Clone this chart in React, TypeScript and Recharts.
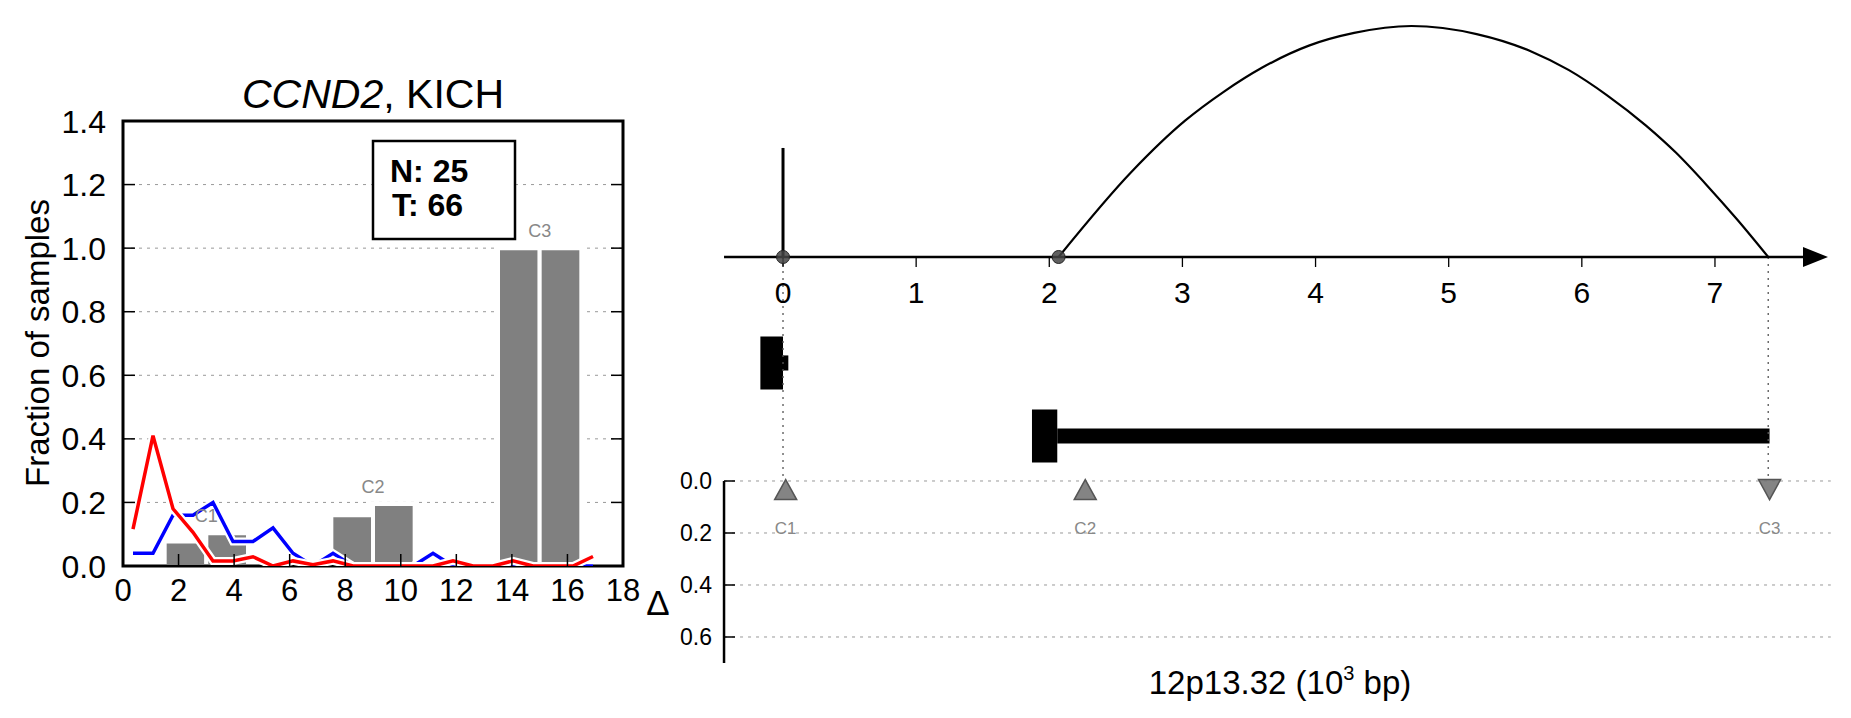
import React from 'react';
import {
  ComposedChart,
  Line,
  XAxis,
  YAxis,
  CartesianGrid,
  ReferenceArea,
  ReferenceLine,
  Scatter,
} from 'recharts';

const FONT = '"Liberation Sans", Arial, Helvetica, sans-serif';

// ---------------- Left panel data ----------------
const binX = [0.36, 1.08, 1.8, 2.52, 3.24, 3.96, 4.68, 5.4, 6.12, 6.84, 7.56, 8.28, 9.0, 9.72, 10.44, 11.16, 11.88, 12.6, 13.32, 14.04, 14.76, 15.48, 16.2, 16.92];
const normalFrac = [0.04, 0.04, 0.16, 0.16, 0.2, 0.077, 0.077, 0.12, 0.04, 0.0, 0.04, 0, 0, 0, 0, 0.04, 0, 0, 0, 0, 0, 0, 0, 0];
const tumorFrac = [0.116, 0.41, 0.18, 0.106, 0.016, 0.016, 0.029, 0.0, 0.016, 0.004, 0.016, 0, 0, 0, 0, 0, 0.016, 0, 0, 0.016, 0, 0, 0, 0.03];
const barStart = [1.5, 3.0, 7.5, 9.0, 13.5, 15.0];
const barEnd = [3.0, 4.5, 9.0, 10.5, 15.0, 16.5];
const barHeight = [0.077, 0.103, 0.16, 0.195, 1.0, 1.0];
const clusterNames = ['C1', 'C2', 'C3'];
const clusterX = [3.0, 9.0, 15.0];
const clusterLabelY = [0.16, 0.25, 1.055];
const leftXTicks = [0, 2, 4, 6, 8, 10, 12, 14, 16, 18];
const leftYTicks = [0, 0.2, 0.4, 0.6, 0.8, 1.0, 1.2, 1.4];
const countN = 25;
const countT = 66;

// ---------------- Right panel data ----------------
const arcX = [2.07, 2.62, 3.02, 3.31, 3.6, 3.95, 4.29, 4.72, 5.21, 5.62, 5.9, 6.19, 6.48, 6.71, 6.94, 7.17, 7.4];
const arcH = [0, 0.37, 0.59, 0.715, 0.82, 0.915, 0.97, 1.0, 0.965, 0.89, 0.81, 0.7, 0.57, 0.45, 0.31, 0.16, 0];
const spikeX = 0;
const spikeH = 0.472;
const junctionX = [0, 2.07];
const geneTicks = [0, 1, 2, 3, 4, 5, 6, 7];
const axisStart = -0.443;
const axisEnd = 7.7;
const arrowX = 7.755;
// gene tracks (track centre on the lower axis' units), thick and thin parts
const geneCenter = [-0.454, -0.173];
const geneThickStart = [-0.17, 1.87];
const geneThickEnd = [0.0, 2.06];
const geneThinStart = [0.0, 2.06];
const geneThinEnd = [0.04, 7.41];
const thickHalf = 0.102;
const thinHalf = 0.029;
const trackTop = -0.862;
const guideX = [0, 7.4];
const deltaTicks = [0, 0.2, 0.4, 0.6];
const deltaMax = 0.7;
const markerNames = ['C1', 'C2', 'C3'];
const markerX = [0.02, 2.27, 7.41];
const markerDelta = [0.033, 0.033, 0.033];
const markerDir = [1, 1, -1];
const markerLabelDelta = 0.18;

// ---------------- derived tables ----------------
const normalData = binX.map((x, i) => ({ x, y: normalFrac[i] }));
const tumorData = binX.map((x, i) => ({ x, y: tumorFrac[i] }));
const clusterLabels = clusterNames.map((label, i) => ({ x: clusterX[i], y: clusterLabelY[i], label }));
const arcData = arcX.map((x, i) => ({ x, y: arcH[i] }));
const junctionData = junctionX.map((x) => ({ x, y: 0 }));
const geneTickData = geneTicks.map((x) => ({ x, y: 0, label: String(x) }));
const deltaTickData = deltaTicks.map((v) => ({ x: axisStart, y: v, label: v.toFixed(1) }));
const markerData = markerNames.map((label, i) => ({ x: markerX[i], y: markerDelta[i], dir: markerDir[i], label }));
const markerLabelData = markerNames.map((label, i) => ({ x: markerX[i], y: markerLabelDelta, label }));

const LeftXTick = (props: any) => {
  const { x, y, payload } = props;
  return (
    <g>
      <line x1={x} x2={x} y1={y} y2={y - 12} stroke="#000" strokeWidth={1.5} />
      <text x={x} y={y + 35} textAnchor="middle" fontSize={31} fontFamily={FONT} fill="#000">
        {payload.value}
      </text>
    </g>
  );
};

const LeftYTick = (props: any) => {
  const { x, y, payload } = props;
  return (
    <g>
      <line x1={x} x2={x + 12} y1={y} y2={y} stroke="#000" strokeWidth={1.5} />
      <text x={x - 17} y={y} dy="0.36em" textAnchor="end" fontSize={32} fontFamily={FONT} fill="#000">
        {Number(payload.value).toFixed(1)}
      </text>
    </g>
  );
};

const RightYTick = (props: any) => {
  const { x, y } = props;
  return <line x1={x} x2={x - 12} y1={y} y2={y} stroke="#000" strokeWidth={1.5} />;
};

const TextShape = (fill: string, size: number) => (props: any) => (
  <text x={props.cx} y={props.cy} dy="0.36em" textAnchor="middle" fontSize={size} fontFamily={FONT} fill={fill}>
    {props.payload.label}
  </text>
);

const GeneTickShape = (props: any) => {
  const { cx, cy, payload } = props;
  return (
    <g>
      <line x1={cx} x2={cx} y1={cy} y2={cy + 10} stroke="#000" strokeWidth={1.3} />
      <text x={cx} y={cy + 46} textAnchor="middle" fontSize={30} fontFamily={FONT} fill="#000">
        {payload.label}
      </text>
    </g>
  );
};

const DeltaTickShape = (props: any) => {
  const { cx, cy, payload } = props;
  return (
    <g>
      <line x1={cx} x2={cx + 11} y1={cy} y2={cy} stroke="#000" strokeWidth={1.5} />
      <text x={cx - 12} y={cy} dy="0.36em" textAnchor="end" fontSize={23} fontFamily={FONT} fill="#000">
        {payload.label}
      </text>
    </g>
  );
};

const ArrowShape = (props: any) => {
  const { cx, cy } = props;
  return <polygon points={`${cx - 12.5},${cy - 10} ${cx + 12.5},${cy} ${cx - 12.5},${cy + 10}`} fill="#000" />;
};

const JunctionShape = (props: any) => (
  <circle cx={props.cx} cy={props.cy} r={6.5} fill="#444" fillOpacity={0.85} stroke="#222" strokeWidth={1} />
);

const MarkerShape = (props: any) => {
  const { cx, cy, payload } = props;
  const pts =
    payload.dir > 0
      ? `${cx},${cy - 10} ${cx - 11},${cy + 10} ${cx + 11},${cy + 10}`
      : `${cx - 11},${cy - 10} ${cx + 11},${cy - 10} ${cx},${cy + 10}`;
  return <polygon points={pts} fill="#777" fillOpacity={0.9} stroke="#555" strokeWidth={1.5} />;
};

const LeftChart = () => (
  <ComposedChart width={650} height={718} margin={{ top: 121, right: 26, bottom: 92, left: 0 }}>
    <CartesianGrid horizontal vertical={false} stroke="#999" strokeDasharray="3 5" />
    <XAxis
      type="number"
      dataKey="x"
      domain={[0, 18]}
      ticks={leftXTicks}
      interval={0}
      axisLine={false}
      tickLine={false}
      tickSize={0}
      tickMargin={0}
      height={60}
      tick={<LeftXTick />}
      allowDataOverflow
    />
    <YAxis
      type="number"
      domain={[0, 1.4]}
      ticks={leftYTicks}
      interval={0}
      width={123}
      axisLine={false}
      tickLine={false}
      tickSize={0}
      tickMargin={0}
      tick={<LeftYTick />}
      allowDataOverflow
    />
    <YAxis
      yAxisId="r"
      orientation="right"
      type="number"
      domain={[0, 1.4]}
      ticks={leftYTicks}
      interval={0}
      width={1}
      axisLine={false}
      tickLine={false}
      tickSize={0}
      tickMargin={0}
      tick={<RightYTick />}
      allowDataOverflow
    />
    {barStart.map((s, i) => (
      <ReferenceArea
        key={'bar' + i}
        x1={s}
        x2={barEnd[i]}
        y1={0}
        y2={barHeight[i]}
        fill="#808080"
        fillOpacity={1}
        stroke="#fff"
        strokeWidth={4}
        ifOverflow="visible"
      />
    ))}
    <Scatter data={clusterLabels} dataKey="y" shape={TextShape('#888', 18)} isAnimationActive={false} />
    <Line data={normalData} dataKey="y" type="linear" stroke="#fff" strokeWidth={8} dot={false} isAnimationActive={false} />
    <Line data={normalData} dataKey="y" type="linear" stroke="#0000ff" strokeWidth={3.5} dot={false} isAnimationActive={false} />
    <Line data={tumorData} dataKey="y" type="linear" stroke="#fff" strokeWidth={8} dot={false} isAnimationActive={false} />
    <Line data={tumorData} dataKey="y" type="linear" stroke="#ff0000" strokeWidth={3.5} dot={false} isAnimationActive={false} />
    <ReferenceArea x1={0} x2={18} y1={0} y2={1.4} fill="none" stroke="#000" strokeWidth={3} ifOverflow="visible" />
  </ComposedChart>
);

const RightChart = () => (
  <ComposedChart width={1201} height={718} margin={{ top: 0, right: 2.9, bottom: 0, left: 73.1 }}>
    <XAxis type="number" dataKey="x" domain={[-0.45, 8]} hide />
    <YAxis yAxisId="arc" type="number" domain={[-1.99567, 1.11255]} hide />
    <YAxis yAxisId="delta" type="number" domain={[-1.85, 0.91154]} reversed hide />

    {deltaTicks.map((v) => (
      <ReferenceLine
        key={'dg' + v}
        yAxisId="delta"
        segment={[{ x: axisStart, y: v }, { x: 7.87, y: v }]}
        stroke="#999"
        strokeDasharray="3 5"
        strokeWidth={1}
        ifOverflow="visible"
      />
    ))}
    {guideX.map((gx) => (
      <ReferenceLine
        key={'guide' + gx}
        yAxisId="delta"
        segment={[{ x: gx, y: trackTop }, { x: gx, y: 0 }]}
        stroke="#555"
        strokeDasharray="2 5"
        strokeWidth={1.3}
        ifOverflow="visible"
      />
    ))}
    {geneCenter.map((c, i) => (
      <ReferenceArea
        key={'thick' + i}
        yAxisId="delta"
        x1={geneThickStart[i]}
        x2={geneThickEnd[i]}
        y1={c - thickHalf}
        y2={c + thickHalf}
        fill="#000"
        fillOpacity={1}
        ifOverflow="visible"
      />
    ))}
    {geneCenter.map((c, i) => (
      <ReferenceArea
        key={'thin' + i}
        yAxisId="delta"
        x1={geneThinStart[i]}
        x2={geneThinEnd[i]}
        y1={c - thinHalf}
        y2={c + thinHalf}
        fill="#000"
        fillOpacity={1}
        ifOverflow="visible"
      />
    ))}
    <ReferenceLine
      yAxisId="delta"
      segment={[{ x: axisStart, y: 0 }, { x: axisStart, y: deltaMax }]}
      stroke="#000"
      strokeWidth={2.5}
      ifOverflow="visible"
    />
    <Scatter yAxisId="delta" data={deltaTickData} dataKey="y" shape={DeltaTickShape} isAnimationActive={false} />
    <Scatter yAxisId="delta" data={markerData} dataKey="y" shape={MarkerShape} isAnimationActive={false} />
    <Scatter yAxisId="delta" data={markerLabelData} dataKey="y" shape={TextShape('#888', 17)} isAnimationActive={false} />

    <ReferenceLine
      yAxisId="arc"
      segment={[{ x: axisStart, y: 0 }, { x: axisEnd, y: 0 }]}
      stroke="#000"
      strokeWidth={2.5}
      ifOverflow="visible"
    />
    <ReferenceLine
      yAxisId="arc"
      segment={[{ x: spikeX, y: 0 }, { x: spikeX, y: spikeH }]}
      stroke="#000"
      strokeWidth={3}
      ifOverflow="visible"
    />
    <Line yAxisId="arc" data={arcData} dataKey="y" type="monotone" stroke="#000" strokeWidth={2.2} dot={false} isAnimationActive={false} />
    <Scatter yAxisId="arc" data={geneTickData} dataKey="y" shape={GeneTickShape} isAnimationActive={false} />
    <Scatter yAxisId="arc" data={[{ x: arrowX, y: 0 }]} dataKey="y" shape={ArrowShape} isAnimationActive={false} />
    <Scatter yAxisId="arc" data={junctionData} dataKey="y" shape={JunctionShape} isAnimationActive={false} />
  </ComposedChart>
);

const Overlay = () => (
  <svg width={1851} height={718} style={{ position: 'absolute', left: 0, top: 0, pointerEvents: 'none' }}>
    <text x={373} y={108} textAnchor="middle" fontSize={41} fontFamily={FONT} fill="#000">
      <tspan fontStyle="italic">CCND2</tspan>
      <tspan>, KICH</tspan>
    </text>
    <text
      x={0}
      y={0}
      transform="translate(49,343) rotate(-90)"
      textAnchor="middle"
      fontSize={33}
      fontFamily={FONT}
      fill="#000"
    >
      Fraction of samples
    </text>
    <rect x={373} y={141} width={142} height={98} fill="#fff" stroke="#000" strokeWidth={2.5} />
    <text x={390} y={182} fontSize={32} fontWeight="bold" fontFamily={FONT} fill="#000">
      {`N: ${countN}`}
    </text>
    <text x={392} y={216} fontSize={32} fontWeight="bold" fontFamily={FONT} fill="#000">
      {`T: ${countT}`}
    </text>
    <text x={658} y={602} dy="0.36em" textAnchor="middle" fontSize={35} fontFamily={FONT} fill="#000">
      Δ
    </text>
    <text x={1280} y={694} textAnchor="middle" fontSize={33} fontFamily={FONT} fill="#000">
      12p13.32 (10
      <tspan fontSize={20} dy={-14}>3</tspan>
      <tspan dy={14}> bp)</tspan>
    </text>
  </svg>
);

export default function App() {
  return (
    <div style={{ position: 'absolute', left: 0, top: 0, width: 1851, height: 718, background: '#fff', overflow: 'hidden' }}>
      <div style={{ position: 'absolute', left: 0, top: 0 }}>
        <LeftChart />
      </div>
      <div style={{ position: 'absolute', left: 650, top: 0 }}>
        <RightChart />
      </div>
      <Overlay />
    </div>
  );
}
